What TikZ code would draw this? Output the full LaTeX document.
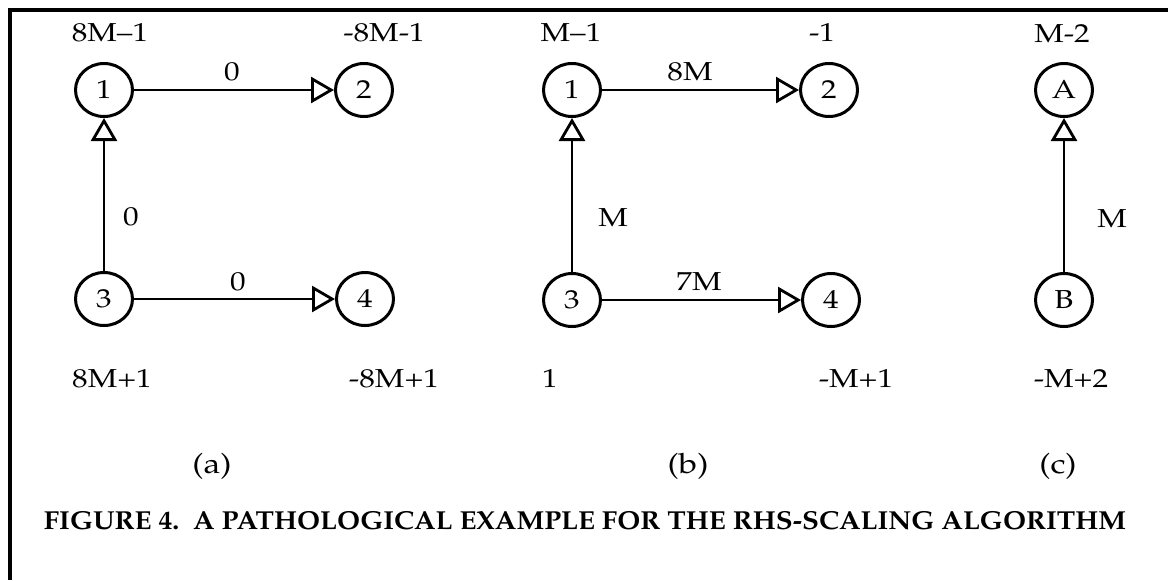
\documentclass[tikz,border=0pt]{standalone}
\usepackage[T1]{fontenc}
\usepackage{mathpazo}
\usetikzlibrary{arrows.meta,shapes.geometric}
\newcommand\sx[1]{\scalebox{1.2}[1]{#1}}
\newcommand\sxc[1]{\scalebox{1.066}[1]{#1}}
\begin{document}
\begin{tikzpicture}[x=0.5pt,y=-0.5pt,
  vtx/.style={draw, line width=1.5pt, ellipse, minimum width=28.5pt, minimum height=26.5pt, inner sep=0pt, font=\fontsize{13}{15}\selectfont},
  lbl/.style={inner sep=0pt, font=\fontsize{13}{15}\selectfont},
  plbl/.style={inner sep=0pt, font=\fontsize{14}{16}\selectfont},
  captext/.style={inner sep=0pt, font=\fontsize{13}{15}\selectfont\bfseries},
  arc/.style={line width=1.45pt, -{Triangle[open, length=11.5pt, width=13pt, line width=1.4pt]}},
  framebox/.style={line width=2pt}]
\useasboundingbox (0,0) rectangle (1171,580);
\fill[white] (0,0) rectangle (1171,580);
\draw[framebox] (10,580) -- (10,10) -- (1168,10);
% panel a
\node[vtx] (a1) at (104,90) {\sx{1}};
\node[vtx] (a2) at (364,90) {\sx{2}};
\node[vtx] (a3) at (104,299) {\sx{3}};
\node[vtx] (a4) at (365,299) {\sx{4}};
\draw[arc] (a1) -- (a2);
\draw[arc] (a3) -- (a1);
\draw[arc] (a3) -- (a4);
\node[lbl] (ea12) at (232,72) {\sx{0}};
\node[lbl] (ea31) at (131,217) {\sx{0}};
\node[lbl] (ea34) at (238,282) {\sx{0}};
\node[lbl] (la1) at (110,33) {\sx{8M--1}};
\node[lbl] (la2) at (384,33) {\sx{-8M-1}};
\node[lbl] (la3) at (112,379) {\sx{8M+1}};
\node[lbl] (la4) at (394,379) {\sx{-8M+1}};
% panel b
\node[vtx] (b1) at (572,90) {\sx{1}};
\node[vtx] (b2) at (829,90) {\sx{2}};
\node[vtx] (b3) at (572,300) {\sx{3}};
\node[vtx] (b4) at (831,300) {\sx{4}};
\draw[arc] (b1) -- (b2);
\draw[arc] (b3) -- (b1);
\draw[arc] (b3) -- (b4);
\node[lbl] (eb12) at (690,72) {\sx{8M}};
\node[lbl] (eb31) at (613,218) {\sx{M}};
\node[lbl] (eb34) at (699,282) {\sx{7M}};
\node[lbl] (lb1) at (571,33) {\sx{M--1}};
\node[lbl] (lb2) at (822,33) {\sx{-1}};
\node[lbl] (lb3) at (550,379) {\sx{1}};
\node[lbl] (lb4) at (856,379) {\sx{-M+1}};
% panel c
\node[vtx] (cA) at (1064,90) {\sx{A}};
\node[vtx] (cB) at (1064,300) {\sx{B}};
\draw[arc] (cB) -- (cA);
\node[lbl] (ec) at (1112,219) {\sx{M}};
\node[lbl] (lc1) at (1062,34) {\sx{M-2}};
\node[lbl] (lc2) at (1071,379) {\sx{-M+2}};
% captions
\node[plbl] (pa) at (212,466) {\sx{(a)}};
\node[plbl] (pb) at (688,466) {\sx{(b)}};
\node[plbl] (pc) at (1058,466) {\sx{(c)}};
\node[captext] (caption) at (585,521) {\sxc{FIGURE 4.\ \ A PATHOLOGICAL EXAMPLE FOR THE RHS-SCALING ALGORITHM}};
\end{tikzpicture}
\end{document}
